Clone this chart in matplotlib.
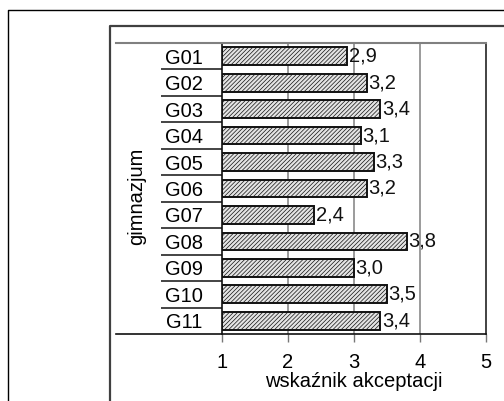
import matplotlib
matplotlib.use("Agg")
import matplotlib.pyplot as plt
from matplotlib.lines import Line2D
import numpy as np

plt.rcParams['font.family'] = ['Liberation Sans', 'DejaVu Sans']
plt.rcParams['hatch.linewidth'] = 0.5
plt.rcParams['hatch.color'] = '#303030'

schools = ["G01", "G02", "G03", "G04", "G05", "G06", "G07", "G08", "G09", "G10", "G11"]
acceptance = [2.9, 3.2, 3.4, 3.1, 3.3, 3.2, 2.4, 3.8, 3.0, 3.5, 3.4]
x_ticks = [1, 2, 3, 4, 5]

W, H = 504, 401
FS = 14.5
fig = plt.figure(figsize=(W / 100, H / 100), dpi=100)


def fx(px):
    return px / W


def fy(py):
    return 1 - py / H


# plot area in pixel terms
left, right, top, bottom = 222, 486, 43, 334
ax = fig.add_axes([fx(left), fy(bottom), fx(right - left), (bottom - top) / H])

pos = np.arange(len(schools))
ax.barh(pos, [v - 1 for v in acceptance], left=1, height=0.67,
        color='#e4e4e4', edgecolor='#111111', linewidth=1.4, hatch='////////',
        zorder=3)

for p, v in zip(pos, acceptance):
    ax.text(v + 0.02, p, f"{v:.1f}".replace('.', ','), va='center', ha='left',
            fontsize=FS, color='#111111', zorder=4)

ax.set_xlim(1, 5)
ax.set_ylim(len(schools) - 0.5, -0.5)
ax.set_xticks(x_ticks)
ax.set_xticklabels([str(t) for t in x_ticks], fontsize=FS)
ax.tick_params(axis='x', length=6, width=1, color='#777777', pad=8)

ax.set_yticks(pos)
ax.set_yticklabels(schools, fontsize=FS)
ax.tick_params(axis='y', which='major', length=0, pad=14)
ax.set_yticks(np.arange(-0.5, len(schools) + 0.5, 1)[1:-1], minor=True)
ax.tick_params(axis='y', which='minor', length=44, width=1.1, color='#111111')

# vertical gridlines
for g in [2, 3, 4]:
    ax.axvline(g, color='#808080', linewidth=1.1, zorder=1)

for s in ['top', 'bottom', 'left', 'right']:
    ax.spines[s].set_visible(False)
ax.spines['left'].set_visible(True)
ax.spines['left'].set_color('#111111')
ax.spines['left'].set_linewidth(1.2)
ax.spines['left'].set_zorder(5)
ax.spines['right'].set_visible(True)
ax.spines['right'].set_color('#222222')
ax.spines['right'].set_linewidth(1.2)

# top and bottom rules running across the label column
fig.add_artist(Line2D([fx(116), fx(right)], [fy(top), fy(top)],
                      transform=fig.transFigure, color='#808080', linewidth=1.5))
fig.add_artist(Line2D([fx(116), fx(right)], [fy(bottom), fy(bottom)],
                      transform=fig.transFigure, color='#111111', linewidth=1.2))

ax.set_xlabel("wskaźnik akceptacji", fontsize=FS, labelpad=0)
fig.text(fx(137), fy(196), "gimnazjum", rotation=90, fontsize=FS,
         ha='center', va='center')

# frames around the chart
fig.add_artist(Line2D([fx(8), fx(8), fx(520)], [fy(420), fy(9.5), fy(9.5)],
                      transform=fig.transFigure, color='#000000', linewidth=1.0))
fig.add_artist(Line2D([fx(109.5), fx(109.5), fx(520)], [fy(420), fy(25.5), fy(25.5)],
                      transform=fig.transFigure, color='#404040', linewidth=1.6))

fig.savefig("out.png", dpi=100)
